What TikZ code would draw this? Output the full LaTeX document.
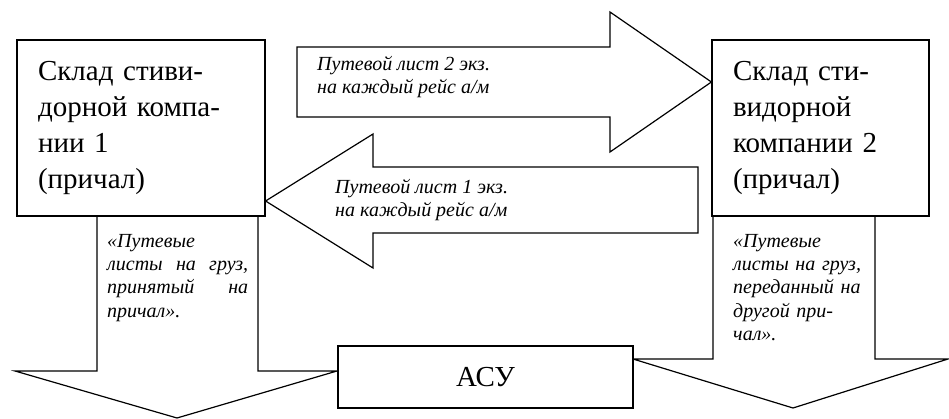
\documentclass[tikz,border=0pt]{standalone}
\usepackage{fontspec}
\setmainfont{Liberation Serif}
\usetikzlibrary{positioning,calc}

\begin{document}
\begin{tikzpicture}[x=1pt, y=-1pt,
        sklad/.style={rectangle, draw, fill=white, line width=1.2pt, align=left, inner sep=0pt, font=\fontsize{29}{36}\selectfont},
        blockarrow/.style={draw, fill=white, line width=1.2pt, line join=miter},
        note/.style={align=left, inner sep=0pt, font=\fontsize{20}{23.3}\selectfont\itshape}
    ]
        \useasboundingbox (0,0) rectangle (949,419);

        % arrows down to the ASU
        \draw[blockarrow] (97,200) -- (97,371) -- (15,371) -- (177,418) -- (337,371) -- (258,371) -- (258,200);
        \draw[blockarrow] (713,200) -- (713,359) -- (633,359) -- (793,408) -- (948,359) -- (875,359) -- (875,200);

        \node[sklad, minimum width=248pt, minimum height=176pt, text width=206pt] (sklad1) at (141,128) {Склад стиви-\\дорной компа-\\нии 1\\(причал)};
        \node[sklad, minimum width=217pt, minimum height=176pt, text width=175pt] (sklad2) at (820.5,128) {Склад сти-\\видорной\\компании 2\\(причал)};
        \node[sklad, align=center, minimum width=295pt, minimum height=62pt] (asu) at (485.5,377) {АСУ};

        % arrows between the two berths
        \coordinate (tip2) at (sklad2.west |- 0,82);
        \coordinate (tip1) at (sklad1.east |- 0,201);
        \draw[blockarrow] (297,47) -- (610,47) -- (610,12) -- (tip2) -- (610,152) -- (610,117) -- (297,117) -- cycle;
        \draw[blockarrow] (698,167) -- (373,167) -- (373,134) -- (tip1) -- (373,268) -- (373,233) -- (698,233) -- cycle;

        \node[note, anchor=west] (put2) at (317,77) {Путевой лист 2 экз.\\на каждый рейс а/м};
        \node[note, anchor=west] (put1) at (335,200) {Путевой лист 1 экз.\\на каждый рейс а/м};
        \node[note, anchor=north west, text width=141pt] (priem) at (107,234) {«Путевые\\листы\hfill на\hfill груз,\\принятый\hfill на\\причал».};
        \node[note, anchor=north west, text width=140pt] (pered) at (733,234) {«Путевые\\листы на груз,\\переданный на\\другой при-\\чал».};
    \end{tikzpicture}
\end{document}
